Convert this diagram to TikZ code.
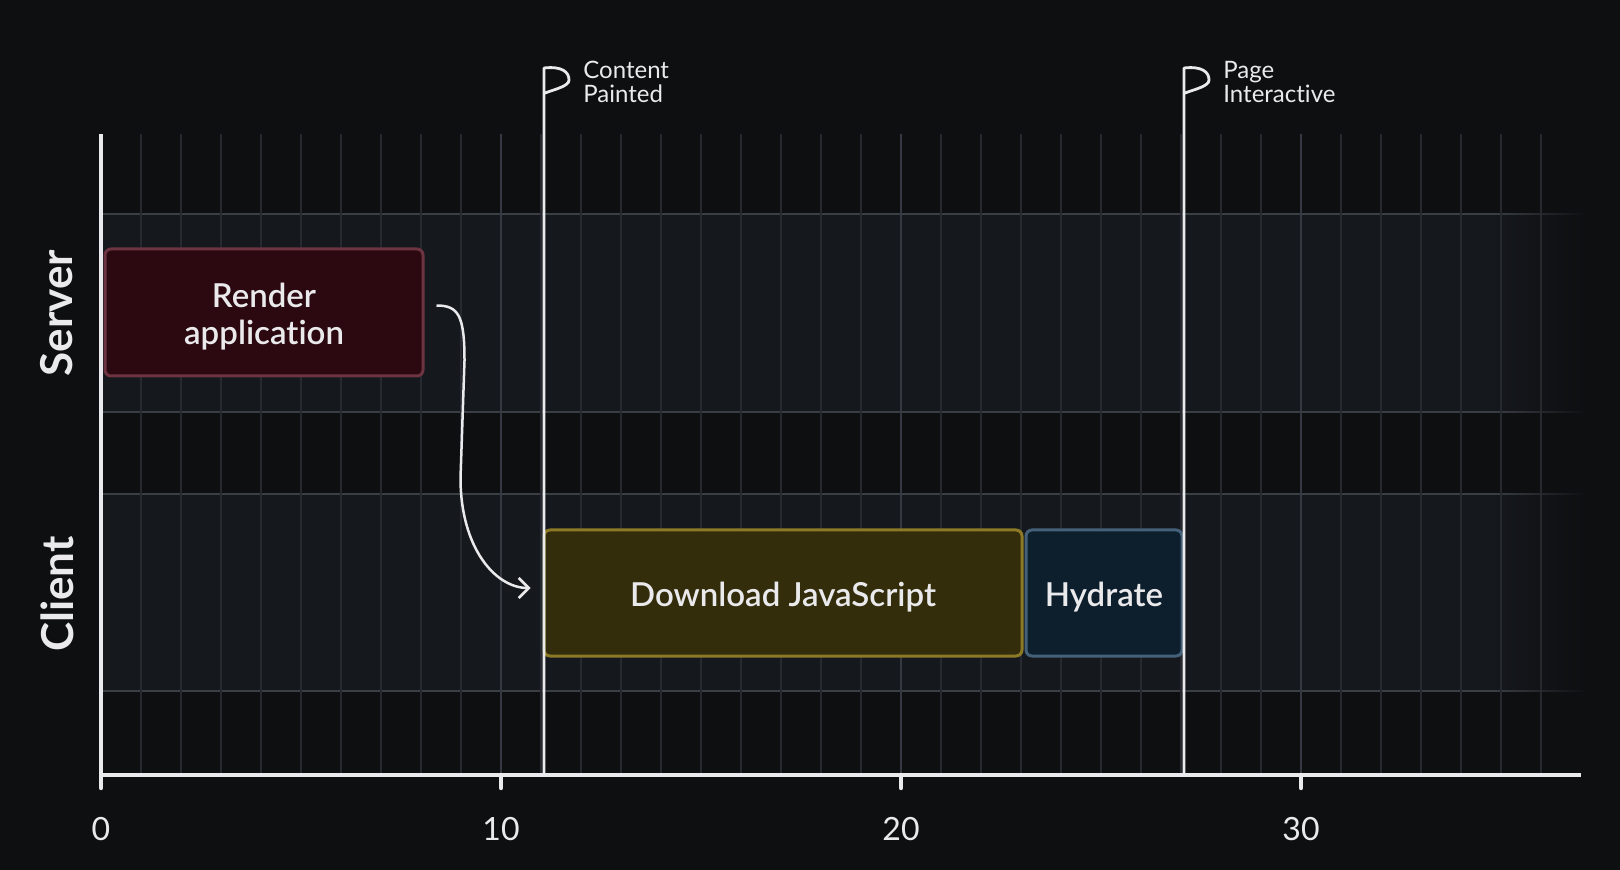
\documentclass[tikz,border=0pt]{standalone}
\usepackage{fontspec}
\setmainfont{Lato}[Ligatures=NoCommon]
\newfontfamily\semibold{Lato Semibold}[Ligatures=NoCommon]
\usetikzlibrary{arrows.meta,calc,fadings}

\definecolor{bgc}{HTML}{0E0F11}
\definecolor{lanec}{HTML}{15181D}
\definecolor{lanedge}{HTML}{3A3F46}
\definecolor{minorc}{HTML}{262A30}
\definecolor{majorc}{HTML}{353A42}
\definecolor{inkc}{HTML}{EAEAEC}
\definecolor{renderfill}{HTML}{2C0911}
\definecolor{renderdraw}{HTML}{6C3441}
\definecolor{dlfill}{HTML}{332D0B}
\definecolor{dldraw}{HTML}{8D7A26}
\definecolor{hyfill}{HTML}{0D1F2D}
\definecolor{hydraw}{HTML}{456179}

% transparent on the left, opaque on the right
\tikzfading[name=fadeinright,left color=transparent!100,right color=transparent!0]

\begin{document}
\begin{tikzpicture}[x=0.5pt,y=-0.5pt,
  minorline/.style={draw=minorc,line width=1pt},
  majorline/.style={draw=majorc,line width=1.4pt},
  laneline/.style={draw=lanedge,line width=1pt},
  axisline/.style={draw=inkc,line width=2.2pt},
  pole/.style={draw=inkc,line width=1.4pt,line join=round,line cap=round},
  task/.style={rounded corners=3pt,line width=1.5pt,inner sep=0pt,minimum height=63pt},
  tasktext/.style={align=center,text=inkc,inner sep=0pt,
    font=\semibold\fontsize{16.5}{18.5}\selectfont},
  lanelabel/.style={text=inkc,font=\bfseries\fontsize{22}{24}\selectfont,rotate=90,inner sep=0pt},
  ticklabel/.style={text=inkc,font=\fontsize{16}{18}\selectfont,inner sep=0pt},
  flaglabel/.style={text=inkc,font=\fontsize{12}{12}\selectfont,align=left,inner sep=0pt,anchor=west},
  flow/.style={draw=inkc,line width=1.25pt,-{Straight Barb[length=5pt,width=10pt,line width=1.25pt]}}
]
\useasboundingbox (0,0) rectangle (1620,870);
\fill[bgc] (0,0) rectangle (1620,870);

% swim lanes with their borders
\foreach \t/\b in {214/412,494/691}{
  \fill[lanec] (101,\t) rectangle (1590,\b);
  \draw[laneline] (101,\t) -- (1590,\t);
  \draw[laneline] (101,\b) -- (1590,\b);
}
% lanes dissolve into the background on the right
\foreach \t/\b in {214/412,494/691}{
  \fill[bgc,path fading=fadeinright] (1495,{\t-3}) rectangle (1588,{\b+3});
  \fill[bgc] (1588,{\t-3}) rectangle (1600,{\b+3});
}

% time grid, one line per unit
\foreach \k in {1,...,36}{
  \draw[minorline] ({101+40*\k},134) -- ({101+40*\k},775);
}
\foreach \k in {10,20,30}{
  \draw[majorline] ({101+40*\k},134) -- ({101+40*\k},775);
}

% tasks
\node[task,fill=renderfill,draw=renderdraw,minimum width=159pt,minimum height=63.5pt]
  (render) at (264,312.5) {};
\node[tasktext] (rendertext) at ($(render.center)+(0,4)$) {Render\\application};
\node[task,fill=dlfill,draw=dldraw,minimum width=239pt]
  (download) at (783,593) {};
\node[tasktext] (downloadtext) at ($(download.center)+(0,4)$) {Download JavaScript};
\node[task,fill=hyfill,draw=hydraw,minimum width=78pt]
  (hydrate) at (1104,593) {};
\node[tasktext] (hydratetext) at ($(hydrate.center)+(0,4)$) {Hydrate};

% hand-off from server to client
\coordinate (a) at ($(render.east)+(12,-7)$);
\coordinate (b) at ($(download.west)+(-12,-5)$);
\draw[flow] (a) .. controls +(22,0) and +(0,-45) .. ($(a)+(28,55)$)
  -- ($(b)+(-70,-110)$) .. controls +(0,70) and +(-35,0) .. (b);

% milestones
\draw[pole] (544,775) -- (544,68) .. controls (562,66) and (569,72) .. (569,80)
  .. controls (569,86) and (556,89) .. (545,93);
\node[flaglabel] (painted) at (583,82) {Content\\Painted};
\draw[pole] (1184,775) -- (1184,68) .. controls (1202,66) and (1209,72) .. (1209,80)
  .. controls (1209,86) and (1196,89) .. (1185,93);
\node[flaglabel] (interactive) at (1223,82) {Page\\Interactive};

% axes
\draw[axisline] (101,134) -- (101,775) -- (1581,775);
\foreach \v in {0,10,20,30}{
  \draw[axisline,line cap=round] ({101+40*\v},775) -- ({101+40*\v},788);
  \node[ticklabel] (t\v) at ({101+40*\v},829) {\v};
}

% lane names
\node[lanelabel] (server) at (57,313) {Server};
\node[lanelabel] (client) at (57,594) {Client};
\end{tikzpicture}
\end{document}
